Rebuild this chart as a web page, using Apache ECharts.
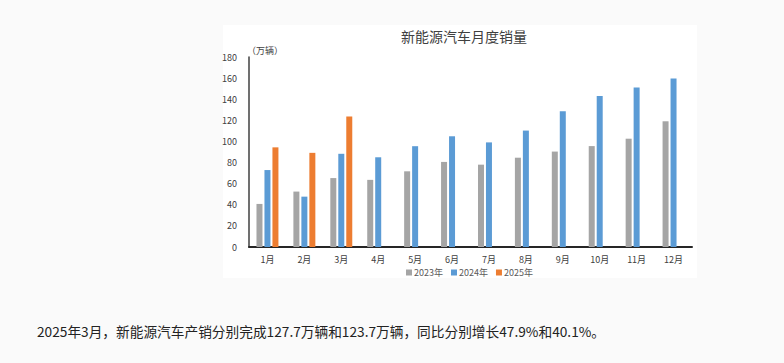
<!DOCTYPE html>
<html><head><meta charset="utf-8">
<script src="https://cdn.jsdelivr.net/npm/echarts@6/dist/echarts.min.js"></script>
<style>
html,body{margin:0;padding:0;background:#fafafa;}
#c{width:784px;height:363px;}
</style></head>
<body><div id="c"></div>
<script>
const categories = ['1月','2月','3月','4月','5月','6月','7月','8月','9月','10月','11月','12月'];
const sales2023 = [40.8, 52.5, 65.3, 63.6, 71.7, 80.6, 78.0, 84.6, 90.4, 95.6, 102.6, 119.1];
const sales2024 = [72.9, 47.7, 88.3, 85.0, 95.5, 104.9, 99.1, 110.3, 128.7, 143.0, 151.2, 159.6];
const sales2025 = [94.4, 89.2, 123.7, null, null, null, null, null, null, null, null, null];
const seriesNames = ['2023年','2024年','2025年'];
const titleText = '新能源汽车月度销量';
const unitText = '（万辆）';
const noteText = '2025年3月，新能源汽车产销分别完成127.7万辆和123.7万辆，同比分别增长47.9%和40.1%。';

const chart = echarts.init(document.getElementById('c'), null, {renderer:'svg'});
const fontFam = '"Noto Sans CJK SC", sans-serif';
const colors = ['#A5A5A5','#5B9BD5','#ED7D31'];
const mk = (name, data, i) => ({
  name, type:'bar', data, barWidth:6, barGap:'33%',
  itemStyle:{color:colors[i]}
});
chart.setOption({
  animation:false,
  backgroundColor:'#fafafa',
  graphic:[
    {type:'rect', z:-10, shape:{x:223,y:25,width:474,height:253}, style:{fill:'#ffffff'}},
    {type:'text', left:247, top:46, style:{text:unitText, fontSize:9, fill:'#404040', fontFamily:fontFam}},
    {type:'text', left:37, top:324, style:{text:noteText, fontSize:13.7, fill:'#222', fontFamily:fontFam}}
  ],
  title:{text:titleText, left:459, top:24, textAlign:'center',
    textStyle:{fontSize:14, fontWeight:'normal', color:'#404040', fontFamily:fontFam}},
  legend:{data:seriesNames, left:401, top:263, itemWidth:6, itemHeight:6, itemGap:8,
    icon:'rect', textStyle:{fontSize:9, color:'#595959', fontFamily:fontFam, padding:[0,0,0,-3]}},
  grid:{left:249, right:92, top:57, bottom:116},
  xAxis:{type:'category', data:categories,
    axisLine:{lineStyle:{color:'#262626', width:2}},
    axisTick:{show:false},
    axisLabel:{fontSize:9, color:'#404040', margin:8, fontFamily:fontFam}},
  yAxis:{type:'value', min:0, max:180, interval:20,
    axisLine:{show:true, lineStyle:{color:'#404040', width:1.5}},
    axisTick:{show:false}, splitLine:{show:false},
    axisLabel:{fontSize:9, color:'#404040', margin:12, fontFamily:fontFam}},
  series:[mk(seriesNames[0], sales2023, 0), mk(seriesNames[1], sales2024, 1), mk(seriesNames[2], sales2025, 2)]
});
</script></body></html>
